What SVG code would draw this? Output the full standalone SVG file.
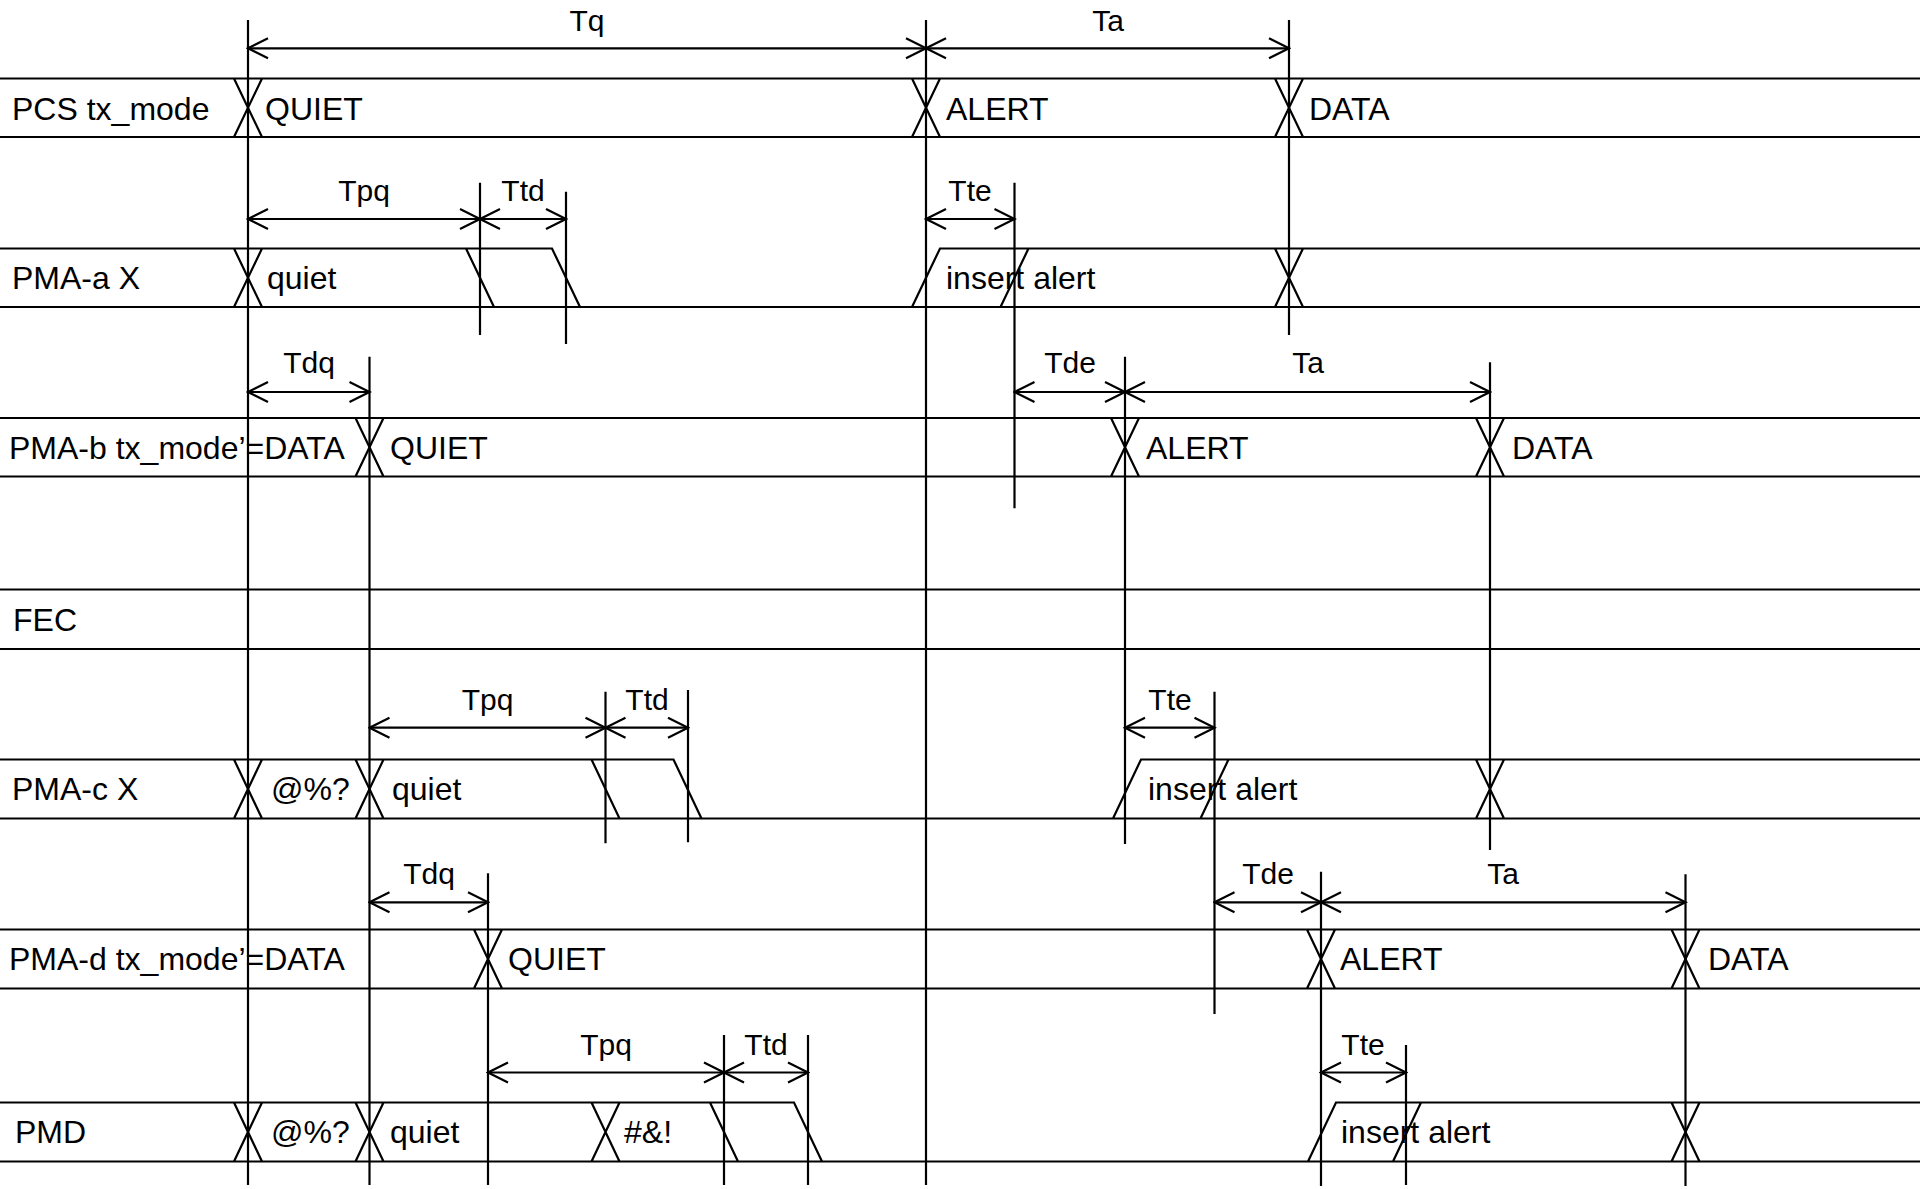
<svg xmlns="http://www.w3.org/2000/svg" width="1920" height="1189" viewBox="0 0 1920 1189">
<defs>
<marker id="ah" viewBox="-23 -12 25 24" refX="0" refY="0" markerWidth="25" markerHeight="24" markerUnits="userSpaceOnUse" orient="auto-start-reverse">
<path d="M-20,-10 L0,0 L-20,10" fill="none" stroke="#000" stroke-width="2.2"/>
</marker>
</defs>
<style>
.sig{fill:none;stroke:#000;stroke-width:2.2}
.vl{fill:none;stroke:#000;stroke-width:2.2}
.dim{fill:none;stroke:#000;stroke-width:2.2;marker-start:url(#ah);marker-end:url(#ah)}
.lbl{font-family:"Liberation Sans",Arial,sans-serif;font-size:32px;fill:#000}
.tl{font-family:"Liberation Sans",Arial,sans-serif;font-size:30px;fill:#000;text-anchor:middle}
</style>
<rect x="0" y="0" width="1920" height="1189" fill="#fff"/>

<g id="row-pcs">
<path class="sig" d="M0 78.5H1920M0 137H1920M234 78.5L262 137M262 78.5L234 137M912 78.5L940 137M940 78.5L912 137M1275 78.5L1303 137M1303 78.5L1275 137"/>
<text class="lbl" x="12" y="120">PCS tx_mode</text>
<text class="lbl" x="265" y="120">QUIET</text>
<text class="lbl" x="946" y="120">ALERT</text>
<text class="lbl" x="1309" y="120">DATA</text>
</g>

<g id="row-pma-a">
<path class="sig" d="M0 248.5H552L580 307M0 307H1920M234 248.5L262 307M262 248.5L234 307M466 248.5L494 307M912 307L940 248.5H1920M1000.5 307L1028.5 248.5M1275 248.5L1303 307M1303 248.5L1275 307"/>
<text class="lbl" x="12" y="289">PMA-a X</text>
<text class="lbl" x="267" y="289">quiet</text>
<text class="lbl" x="946" y="289">insert alert</text>
</g>

<g id="row-pma-b">
<path class="sig" d="M0 418H1920M0 476.5H1920M355.5 418L383.5 476.5M383.5 418L355.5 476.5M1111 418L1139 476.5M1139 418L1111 476.5M1476 418L1504 476.5M1504 418L1476 476.5"/>
<text class="lbl" x="9" y="459">PMA-b tx_mode’=DATA</text>
<text class="lbl" x="390" y="459">QUIET</text>
<text class="lbl" x="1146" y="459">ALERT</text>
<text class="lbl" x="1512" y="459">DATA</text>
</g>

<g id="row-fec">
<path class="sig" d="M0 589.5H1920M0 649H1920"/>
<text class="lbl" x="13" y="631">FEC</text>
</g>

<g id="row-pma-c">
<path class="sig" d="M0 759.5H673.5L701.5 818.5M0 818.5H1920M234 759.5L262 818.5M262 759.5L234 818.5M355.5 759.5L383.5 818.5M383.5 759.5L355.5 818.5M591.5 759.5L619.5 818.5M1113 818.5L1141 759.5H1920M1200.5 818.5L1228.5 759.5M1476 759.5L1504 818.5M1504 759.5L1476 818.5"/>
<text class="lbl" x="12" y="800">PMA-c X</text>
<text class="lbl" x="271" y="800">@%?</text>
<text class="lbl" x="392" y="800">quiet</text>
<text class="lbl" x="1148" y="800">insert alert</text>
</g>

<g id="row-pma-d">
<path class="sig" d="M0 929.5H1920M0 988.5H1920M474 929.5L502 988.5M502 929.5L474 988.5M1307 929.5L1335 988.5M1335 929.5L1307 988.5M1671.5 929.5L1699.5 988.5M1699.5 929.5L1671.5 988.5"/>
<text class="lbl" x="9" y="970">PMA-d tx_mode’=DATA</text>
<text class="lbl" x="508" y="970">QUIET</text>
<text class="lbl" x="1340" y="970">ALERT</text>
<text class="lbl" x="1708" y="970">DATA</text>
</g>

<g id="row-pmd">
<path class="sig" d="M0 1102.5H794L822 1161.5M0 1161.5H1920M234 1102.5L262 1161.5M262 1102.5L234 1161.5M355.5 1102.5L383.5 1161.5M383.5 1102.5L355.5 1161.5M591.5 1102.5L619.5 1161.5M619.5 1102.5L591.5 1161.5M710 1102.5L738 1161.5M1308 1161.5L1336 1102.5H1920M1393 1161.5L1421 1102.5M1671.5 1102.5L1699.5 1161.5M1699.5 1102.5L1671.5 1161.5"/>
<text class="lbl" x="15" y="1143">PMD</text>
<text class="lbl" x="271" y="1143">@%?</text>
<text class="lbl" x="390" y="1143">quiet</text>
<text class="lbl" x="624" y="1143">#&amp;!</text>
<text class="lbl" x="1341" y="1143">insert alert</text>
</g>

<g id="connectors">
<path class="vl" d="M248 20V1185M369.5 356.7V1185M926 20V1185M1289 20V335M480 182.7V335M566 191.7V344M1014.5 182.7V508.3M1125 356.7V844M1490 362.3V850M605.5 691.7V843.3M688 690V842.3M1214.5 691.7V1014M488 873.3V1185M1321 871.7V1186M1685.5 874.3V1186M724 1035V1185M808 1035V1185M1406 1045V1185"/>
<path class="dim" d="M248 48.3H926"/>
<path class="dim" d="M926 48.3H1289"/>
<path class="dim" d="M248 219H480"/>
<path class="dim" d="M480 219H566"/>
<path class="dim" d="M926 219H1014.5"/>
<path class="dim" d="M248 392H369.5"/>
<path class="dim" d="M1014.5 392H1125"/>
<path class="dim" d="M1125 392H1490"/>
<path class="dim" d="M369.5 727.7H605.5"/>
<path class="dim" d="M605.5 727.7H688"/>
<path class="dim" d="M1125 727.7H1214.5"/>
<path class="dim" d="M369.5 902.3H488"/>
<path class="dim" d="M1214.5 902.3H1321"/>
<path class="dim" d="M1321 902.3H1685.5"/>
<path class="dim" d="M488 1072.5H724"/>
<path class="dim" d="M724 1072.5H808"/>
<path class="dim" d="M1321 1072.5H1406"/>
<text class="tl" x="587" y="31">Tq</text>
<text class="tl" x="1108" y="31">Ta</text>
<text class="tl" x="364" y="201">Tpq</text>
<text class="tl" x="523" y="201">Ttd</text>
<text class="tl" x="970" y="201">Tte</text>
<text class="tl" x="309" y="373">Tdq</text>
<text class="tl" x="1070" y="373">Tde</text>
<text class="tl" x="1308" y="373">Ta</text>
<text class="tl" x="487.5" y="710">Tpq</text>
<text class="tl" x="647" y="710">Ttd</text>
<text class="tl" x="1170" y="710">Tte</text>
<text class="tl" x="429" y="884">Tdq</text>
<text class="tl" x="1268" y="884">Tde</text>
<text class="tl" x="1503" y="884">Ta</text>
<text class="tl" x="606" y="1055">Tpq</text>
<text class="tl" x="766" y="1055">Ttd</text>
<text class="tl" x="1363" y="1055">Tte</text>
</g>
</svg>
